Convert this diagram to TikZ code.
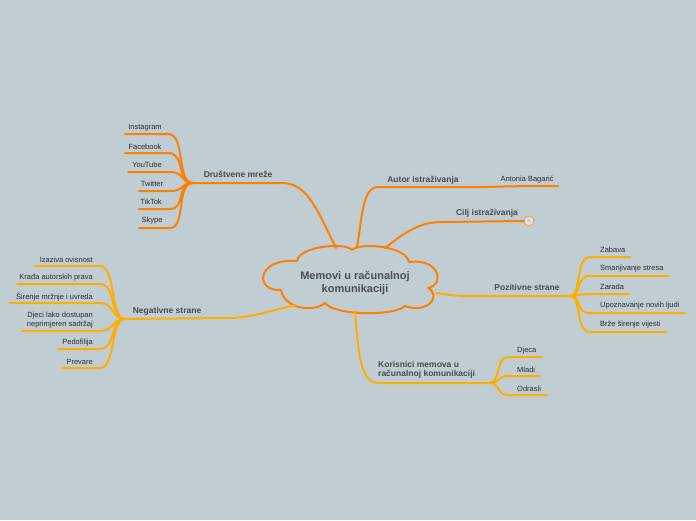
\documentclass[tikz,border=0pt]{standalone}
\usepackage{fontspec}
\setmainfont{Liberation Sans}
\usetikzlibrary{positioning}
\definecolor{bgcol}{HTML}{C0CED4}
\definecolor{orng}{HTML}{FF8000}
\definecolor{ambr}{HTML}{FFAD00}
\definecolor{txtcol}{HTML}{2B2B2B}
\definecolor{titlecol}{HTML}{4A4F54}

\tikzset{
  leaf/.style={font=\fontsize{7.5}{8.5}\selectfont, text=txtcol, inner sep=0pt},
  branch/.style={font=\bfseries\fontsize{8.5}{9.5}\selectfont, text=txtcol!85, inner sep=0pt},
  ln/.style={line width=2pt, line cap=round},
}

\begin{document}
\begin{tikzpicture}[x=1pt, y=-1pt]
\fill[bgcol] (0,0) rectangle (696,520);
\useasboundingbox (0,0) rectangle (696,520);

% centre cloud
\path
  (297,261) coordinate (k1)
  (352,250) coordinate (k2)
  (409,262) coordinate (k3)
  (428,288) coordinate (k4)
  (405,306) coordinate (k5)
  (325,303) coordinate (k6)
  (281,290) coordinate (k7)
  ;
\draw[orng, line width=2pt, line join=round]
  (k1) .. controls (299,246) and (346,242) .. (k2)
       .. controls (360,242) and (406,246) .. (k3)
       .. controls (440,258) and (445,285) .. (k4)
       .. controls (442,296) and (428,314) .. (k5)
       .. controls (395,316) and (335,316) .. (k6)
       .. controls (315,312) and (285,310) .. (k7)
       .. controls (255,292) and (255,258) .. (k1) -- cycle;
\node[align=center, text=titlecol, inner sep=0pt,
      font=\bfseries\fontsize{11}{13.5}\selectfont] (root) at (355,283)
      {Memovi u računalnoj\\komunikaciji};
\path
  (336,248) coordinate (cDM)
  (357,247) coordinate (cAU)
  (385,248) coordinate (cCI)
  (436,293) coordinate (cPZ)
  (355,311) coordinate (cKO)
  (296,305) coordinate (cNG)
  ;

% Drustvene mreze
\path
  (193,183) coordinate (dm)
  (282,183) coordinate (dmE)
  (125,134) coordinate (igA) (168,134) coordinate (igB)
  (125,153) coordinate (fbA) (168,153) coordinate (fbB)
  (128,172) coordinate (ytA) (170,172) coordinate (ytB)
  (139,191) coordinate (twA) (170,191) coordinate (twB)
  (139,209) coordinate (ttA) (170,209) coordinate (ttB)
  (139,228) coordinate (skA) (170,228) coordinate (skB)
  ;
\node[branch] (dmL) at (238,174) {Društvene mreže};
\node[leaf] (ig) at (145,128) {Instagram};
\node[leaf] (fb) at (145,147) {Facebook};
\node[leaf] (yt) at (147,165) {YouTube};
\node[leaf] (tw) at (152,184) {Twitter};
\node[leaf] (tt) at (151,202) {TikTok};
\node[leaf] (sk) at (152,221) {Skype};
\draw[ln, orng] (cDM) .. controls (318,212) and (308,183) .. (dmE) -- (dm);
\draw[ln, orng] (dm) .. controls (176,183) and (186,134) .. (igB) -- (igA);
\draw[ln, orng] (dm) .. controls (176,183) and (186,153) .. (fbB) -- (fbA);
\draw[ln, orng] (dm) .. controls (180,183) and (185,172) .. (ytB) -- (ytA);
\draw[ln, orng] (dm) .. controls (180,183) and (185,191) .. (twB) -- (twA);
\draw[ln, orng] (dm) .. controls (176,183) and (186,209) .. (ttB) -- (ttA);
\draw[ln, orng] (dm) .. controls (176,183) and (186,228) .. (skB) -- (skA);

% Negativne strane
\path
  (125,319) coordinate (ng)
  (228,318) coordinate (ngE)
  (35,266) coordinate (izA) (100,266) coordinate (izB)
  (17,284) coordinate (krA) (100,284) coordinate (krB)
  (10,303) coordinate (siA) (100,303) coordinate (siB)
  (22,331) coordinate (djA) (100,331) coordinate (djB)
  (58,349) coordinate (peA) (100,349) coordinate (peB)
  (62,368) coordinate (prA) (100,368) coordinate (prB)
  ;
\node[branch] (ngL) at (167,311) {Negativne strane};
\node[leaf, anchor=east] (iz) at (93,260) {Izaziva ovisnost};
\node[leaf, anchor=east] (kr) at (93,278) {Krađa autorskih prava};
\node[leaf, anchor=east] (si) at (93,297) {Širenje mržnje i uvreda};
\node[leaf, anchor=east, align=right] (dj) at (93,320) {Djeci lako dostupan\\neprimjeren sadržaj};
\node[leaf, anchor=east] (pe) at (93,343) {Pedofilija};
\node[leaf, anchor=east] (pr) at (93,362) {Prevare};
\draw[ln, ambr] (cNG) .. controls (265,312) and (250,318) .. (ngE) -- (ng);
\draw[ln, ambr] (ng) .. controls (110,319) and (116,266) .. (izB) -- (izA);
\draw[ln, ambr] (ng) .. controls (110,319) and (116,284) .. (krB) -- (krA);
\draw[ln, ambr] (ng) .. controls (112,319) and (114,303) .. (siB) -- (siA);
\draw[ln, ambr] (ng) .. controls (112,319) and (114,331) .. (djB) -- (djA);
\draw[ln, ambr] (ng) .. controls (110,319) and (116,349) .. (peB) -- (peA);
\draw[ln, ambr] (ng) .. controls (110,319) and (116,368) .. (prB) -- (prA);

% Autor istrazivanja
\path
  (378,187) coordinate (au)
  (486,187) coordinate (auE)
  (558,186) coordinate (abB)
  ;
\node[branch] (auL) at (423,180) {Autor istraživanja};
\node[leaf] (ab) at (527,180) {Antonia Bagarić};
\draw[ln, orng] (cAU) .. controls (362,220) and (362,187) .. (au) -- (auE)
  .. controls (495,187) and (500,186) .. (abB);

% Cilj istrazivanja
\path
  (442,222) coordinate (ci)
  ;
\node[branch] (ciL) at (487,213) {Cilj istraživanja};
\node[circle, draw=orng!80, fill=bgcol!60!white, line width=0.8pt, inner sep=0pt,
      minimum size=10pt, font=\fontsize{5}{5}\selectfont, text=orng] (plus) at (529,221) {+};
\draw[ln, orng] (cCI) .. controls (405,232) and (420,222) .. (ci) -- (plus.west);

% Pozitivne strane
\path
  (470,296) coordinate (pzS)
  (570,296) coordinate (pz)
  (590,257) coordinate (zbA) (630,257) coordinate (zbB)
  (590,276) coordinate (smA) (669,276) coordinate (smB)
  (590,294) coordinate (zrA) (629,294) coordinate (zrB)
  (590,313) coordinate (upA) (685,313) coordinate (upB)
  (590,332) coordinate (brA) (666,332) coordinate (brB)
  ;
\node[branch] (pzL) at (527,287) {Pozitivne strane};
\node[leaf, anchor=west] (zb) at (600,250) {Zabava};
\node[leaf, anchor=west] (sm) at (600,269) {Smanjivanje stresa};
\node[leaf, anchor=west] (zr) at (600,287) {Zarada};
\node[leaf, anchor=west] (up) at (600,306) {Upoznavanje novih ljudi};
\node[leaf, anchor=west] (br) at (600,325) {Brže širenje vijesti};
\draw[ln, ambr] (cPZ) .. controls (450,295) and (455,296) .. (pzS) -- (pz);
\draw[ln, ambr] (pz) .. controls (582,296) and (575,257) .. (zbA) -- (zbB);
\draw[ln, ambr] (pz) .. controls (582,296) and (575,276) .. (smA) -- (smB);
\draw[ln, ambr] (pz) .. controls (580,296) and (578,294) .. (zrA) -- (zrB);
\draw[ln, ambr] (pz) .. controls (582,296) and (575,313) .. (upA) -- (upB);
\draw[ln, ambr] (pz) .. controls (582,296) and (575,332) .. (brA) -- (brB);

% Korisnici memova
\path
  (378,383) coordinate (koS)
  (490,383) coordinate (ko)
  (508,357) coordinate (dcA) (542,357) coordinate (dcB)
  (508,376) coordinate (mlA) (540,376) coordinate (mlB)
  (508,395) coordinate (odA) (547,395) coordinate (odB)
  ;
\node[branch, anchor=west, align=left] (koL) at (378,370) {Korisnici memova u\\računalnoj komunikaciji};
\node[leaf, anchor=west] (dc) at (517,351) {Djeca};
\node[leaf, anchor=west] (ml) at (517,370) {Mladi};
\node[leaf, anchor=west] (od) at (517,389) {Odrasli};
\draw[ln, ambr] (cKO) .. controls (358,350) and (360,383) .. (koS) -- (ko);
\draw[ln, ambr] (ko) .. controls (500,383) and (496,357) .. (dcA) -- (dcB);
\draw[ln, ambr] (ko) .. controls (500,383) and (498,376) .. (mlA) -- (mlB);
\draw[ln, ambr] (ko) .. controls (500,383) and (496,395) .. (odA) -- (odB);
\end{tikzpicture}
\end{document}
